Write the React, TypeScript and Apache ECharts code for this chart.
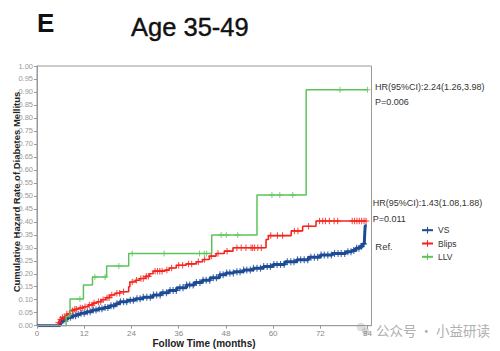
import React, { useEffect, useRef } from "react";
import * as echarts from "echarts";

// ---- data ----
const seriesNames = ["VS", "Blips", "LLV"];
const seriesColors = ["#1d4b95", "#f5231d", "#5cc35a"];
const xTickValues = [0, 12, 24, 36, 48, 60, 72, 84];

// [month, cumulative hazard] steps
const vsSteps: [number, number][] = [
  [0, 0], [5.5, 0], [5.8, 0.008], [6.2, 0.016], [6.6, 0.022], [7.2, 0.028], [8, 0.033],
  [9, 0.038], [10, 0.043], [11, 0.048], [12.5, 0.054], [14, 0.06], [15.5, 0.065],
  [17, 0.07], [18.5, 0.077], [20, 0.085], [21, 0.092], [23, 0.098], [25, 0.104],
  [27, 0.11], [29.5, 0.118], [31.5, 0.127], [33.5, 0.136], [35.5, 0.146], [38, 0.157],
  [40, 0.166], [42, 0.175], [44, 0.185], [46.4, 0.196], [48, 0.203], [50, 0.208],
  [52.5, 0.214], [55, 0.221], [57.5, 0.228], [60, 0.236], [63, 0.246], [66, 0.254],
  [69, 0.264], [72, 0.272], [75, 0.278], [78.5, 0.285], [80, 0.29], [81, 0.298],
  [82, 0.305], [82.7, 0.315], [83.2, 0.33], [83.3, 0.36], [83.4, 0.385], [83.8, 0.385],
];
const blipsSteps: [number, number][] = [
  [0, 0], [5.2, 0], [5.4, 0.012], [5.8, 0.025], [6.5, 0.032], [7.5, 0.045], [8.4, 0.058],
  [9.5, 0.063], [10.5, 0.068], [11.8, 0.073], [13, 0.08], [14.2, 0.087], [15.2, 0.092],
  [16.3, 0.1], [17.5, 0.108], [18.5, 0.118], [19.8, 0.125], [21.1, 0.131], [23.3, 0.15],
  [23.6, 0.168], [25, 0.175], [26.1, 0.182], [27.5, 0.19], [28.6, 0.2], [29.5, 0.21],
  [32.5, 0.214], [33.6, 0.222], [35.4, 0.233], [37.9, 0.238], [40.5, 0.246], [42.1, 0.255],
  [43.8, 0.268], [45.5, 0.278], [47.6, 0.287], [49.8, 0.3], [58.2, 0.332], [58.8, 0.347],
  [64.6, 0.365], [67.5, 0.383], [70.9, 0.403], [83.7, 0.403],
];
const llvSteps: [number, number][] = [
  [0, 0], [7.4, 0], [7.4, 0.035], [8.4, 0.103], [11.8, 0.157], [14.1, 0.188], [17.7, 0.23],
  [23.3, 0.278], [44.4, 0.349], [55.9, 0.503], [68.4, 0.909], [84, 0.909],
];

// censoring times (months)
const vsCensor = [
  6.2, 6.8, 7.3, 7.8, 8.5, 9.2, 9.8, 10.5, 11.2, 12, 12.8, 13.5, 14.3, 15, 15.8, 16.5,
  17.3, 18, 18.8, 19.5, 20.3, 21.2, 22, 22.8, 23.7, 24.5, 25.4, 26.2, 27, 27.9, 28.8,
  29.6, 30.4, 31.3, 32, 32.9, 33.8, 34.6, 35.4, 36.3, 37.1, 38, 38.8, 39.7, 40.5, 41.4,
  42.2, 43, 43.9, 44.8, 45.6, 46.5, 47.3, 48.2, 49, 49.9, 50.8, 51.6, 52.5, 53.3, 54.2,
  55, 55.9, 56.8, 57.6, 58.5, 59.3, 60.2, 61, 61.9, 62.8, 63.6, 64.5, 65.3, 66.2, 67,
  67.9, 68.8, 69.6, 70.5, 71.3, 72.2, 73, 73.9, 74.8, 75.6, 76.5, 77.3, 78.2, 79, 79.8,
  80.5, 81.2, 81.8, 82.4, 83,
];
const blipsCensor = [
  5.5, 6, 6.5, 7, 7.6, 8.2, 9, 9.6, 10, 11, 11.5, 12.2, 13.3, 14, 14.5, 15.6, 16.2, 16.8,
  17.8, 18.3, 19, 20.3, 21, 22, 24.2, 25.3, 26.4, 27, 27.8, 28.3, 30, 30.6, 31.2, 31.8,
  33, 34.2, 36, 37, 38.5, 39.3, 41, 42.6, 44.3, 46, 48.3, 50.8, 51.9, 53.1, 54.4, 54.8,
  55.3, 56.1, 57, 59.4, 61.1, 62.4, 65.4, 66.3, 69, 71.8, 72.6, 73.3, 74.3, 75.5, 76.4,
  80.1, 80.7, 81.3, 81.9, 82.5, 83.1, 83.6,
];
const llvCensor = [
  10.9, 14.7, 17.3, 20.8, 24.2, 32.3, 41.3, 42.5, 43.1, 46.8, 48.1, 51, 59.7, 61.7, 65,
  77, 84,
];

const xMin = 0;
const xMax = 85;
const xInterval = 12;
const yMin = 0;
const yMax = 1;
const yInterval = 0.05;

const PLUS = "path://M5,0H7V5H12V7H7V12H5V7H0V5H5Z";

function stepValue(steps: [number, number][], t: number): number {
  let v = steps[0][1];
  for (const [x, y] of steps) {
    if (x <= t) v = y;
    else break;
  }
  return v;
}

export default function App() {
  const ref = useRef<HTMLDivElement>(null);

  useEffect(() => {
    if (!ref.current) return;
    const chart = echarts.init(ref.current, undefined, { renderer: "svg" });
    const allSteps = [vsSteps, blipsSteps, llvSteps];
    const allCensor = [vsCensor, blipsCensor, llvCensor];
    const widths = [3, 1.6, 1.5];
    const sizes = [7, 6.5, 6];

    const series: any[] = [];
    seriesNames.forEach((name, i) => {
      series.push({
        type: "line",
        name,
        data: allSteps[i],
        step: "end",
        symbol: PLUS,
        symbolSize: 8,
        showSymbol: false,
        lineStyle: { color: seriesColors[i], width: widths[i] },
        itemStyle: { color: seriesColors[i] },
        z: 2 + i,
        silent: true,
      });
      series.push({
        type: "scatter",
        name: name + " censored",
        data: allCensor[i].map((t) => [t, stepValue(allSteps[i], t)]),
        symbol: PLUS,
        symbolSize: sizes[i],
        itemStyle: { color: seriesColors[i] },
        z: 2 + i,
        silent: true,
      });
    });

    const axisGray = "#999";
    const textFont = "Liberation Sans, Arial, sans-serif";

    chart.setOption({
      animation: false,
      textStyle: { fontFamily: textFont },
      grid: {
        show: true,
        left: 37,
        top: 66,
        right: 128.5,
        bottom: 25.3,
        borderColor: axisGray,
        borderWidth: 1,
        containLabel: false,
      },
      xAxis: {
        type: "value",
        min: xMin,
        max: xMax,
        interval: xInterval,
        z: 5,
        axisLine: { show: true, lineStyle: { color: axisGray } },
        axisTick: {
          show: true,
          length: 3,
          customValues: xTickValues,
          lineStyle: { color: axisGray },
        },
        splitLine: { show: false },
        axisLabel: {
          fontSize: 8,
          color: "#888",
          margin: 4,
          customValues: xTickValues,
          hideOverlap: false,
          formatter: (v: number) => String(v),
        },
      },
      yAxis: {
        type: "value",
        min: yMin,
        max: yMax,
        interval: yInterval,
        axisLine: { show: true, lineStyle: { color: axisGray } },
        axisTick: { show: true, length: 3, lineStyle: { color: axisGray } },
        splitLine: { show: false },
        axisLabel: {
          fontSize: 7.5,
          color: "#999",
          margin: 4,
          formatter: (v: number) => v.toFixed(2),
        },
      },
      legend: {
        data: seriesNames,
        orient: "vertical",
        left: 416,
        top: 220.7,
        itemWidth: 11,
        itemHeight: 8,
        itemGap: 4.3,
        textStyle: { fontSize: 8.5, color: "#333", fontFamily: textFont },
        selectedMode: false,
      },
      graphic: [
        {
          type: "text",
          x: 37,
          y: 23,
          style: {
            text: "E",
            font: "bold 26px Liberation Sans, Arial, sans-serif",
            fill: "#111",
            verticalAlign: "middle",
            textVerticalAlign: "middle",
          },
        },
        {
          type: "text",
          x: 131,
          y: 27,
          style: {
            text: "Age 35-49",
            font: "25.5px Liberation Sans, Arial, sans-serif",
            fill: "#111",
            stroke: "#111",
            lineWidth: 0.4,
            verticalAlign: "middle",
            textVerticalAlign: "middle",
          },
        },
        {
          type: "text",
          x: 16,
          y: 192,
          rotation: Math.PI / 2,
          style: {
            text: "Cumulative Hazard Rate of Diabetes Mellitus",
            font: "bold 9.5px Liberation Sans, Arial, sans-serif",
            fill: "#222",
            align: "center",
            verticalAlign: "middle",
            textAlign: "center",
            textVerticalAlign: "middle",
          },
        },
        {
          type: "text",
          x: 204,
          y: 343.5,
          style: {
            text: "Follow Time (months)",
            font: "bold 10px Liberation Sans, Arial, sans-serif",
            fill: "#222",
            align: "center",
            verticalAlign: "middle",
            textAlign: "center",
            textVerticalAlign: "middle",
          },
        },
        ...[
          { t: "HR(95%CI):2.24(1.26,3.98)", x: 375, y: 87.3 },
          { t: "P=0.006", x: 375, y: 102.3 },
          { t: "HR(95%CI):1.43(1.08,1.88)", x: 372.7, y: 203.3 },
          { t: "P=0.011", x: 372.7, y: 219 },
        ].map((a) => ({
          type: "text",
          x: a.x,
          y: a.y,
          style: {
            text: a.t,
            font: "9px Liberation Sans, Arial, sans-serif",
            fill: "#333",
            verticalAlign: "middle",
            textVerticalAlign: "middle",
          },
        })),
        {
          type: "text",
          x: 375.3,
          y: 246,
          style: {
            text: "Ref.",
            font: "9.5px Liberation Sans, Arial, sans-serif",
            fill: "#333",
            verticalAlign: "middle",
            textVerticalAlign: "middle",
          },
        },
        // watermark
        {
          type: "circle",
          shape: { cx: 361, cy: 327, r: 4.3 },
          style: { fill: "#c8c8c8", opacity: 0.6 },
        },
        {
          type: "circle",
          shape: { cx: 365.5, cy: 331, r: 3.6 },
          style: { fill: "#b8b8b8", opacity: 0.6 },
        },
        {
          type: "text",
          x: 376,
          y: 330,
          style: {
            text: "公众号 · 小益研读",
            font: "13.5px 'Noto Sans CJK SC', sans-serif",
            fill: "#b0b0b0",
            verticalAlign: "middle",
            textVerticalAlign: "middle",
          },
        },
      ],
      series,
    });

    return () => chart.dispose();
  }, []);

  return <div ref={ref} style={{ width: 500, height: 351, position: "absolute", left: 0, top: 0 }} />;
}
